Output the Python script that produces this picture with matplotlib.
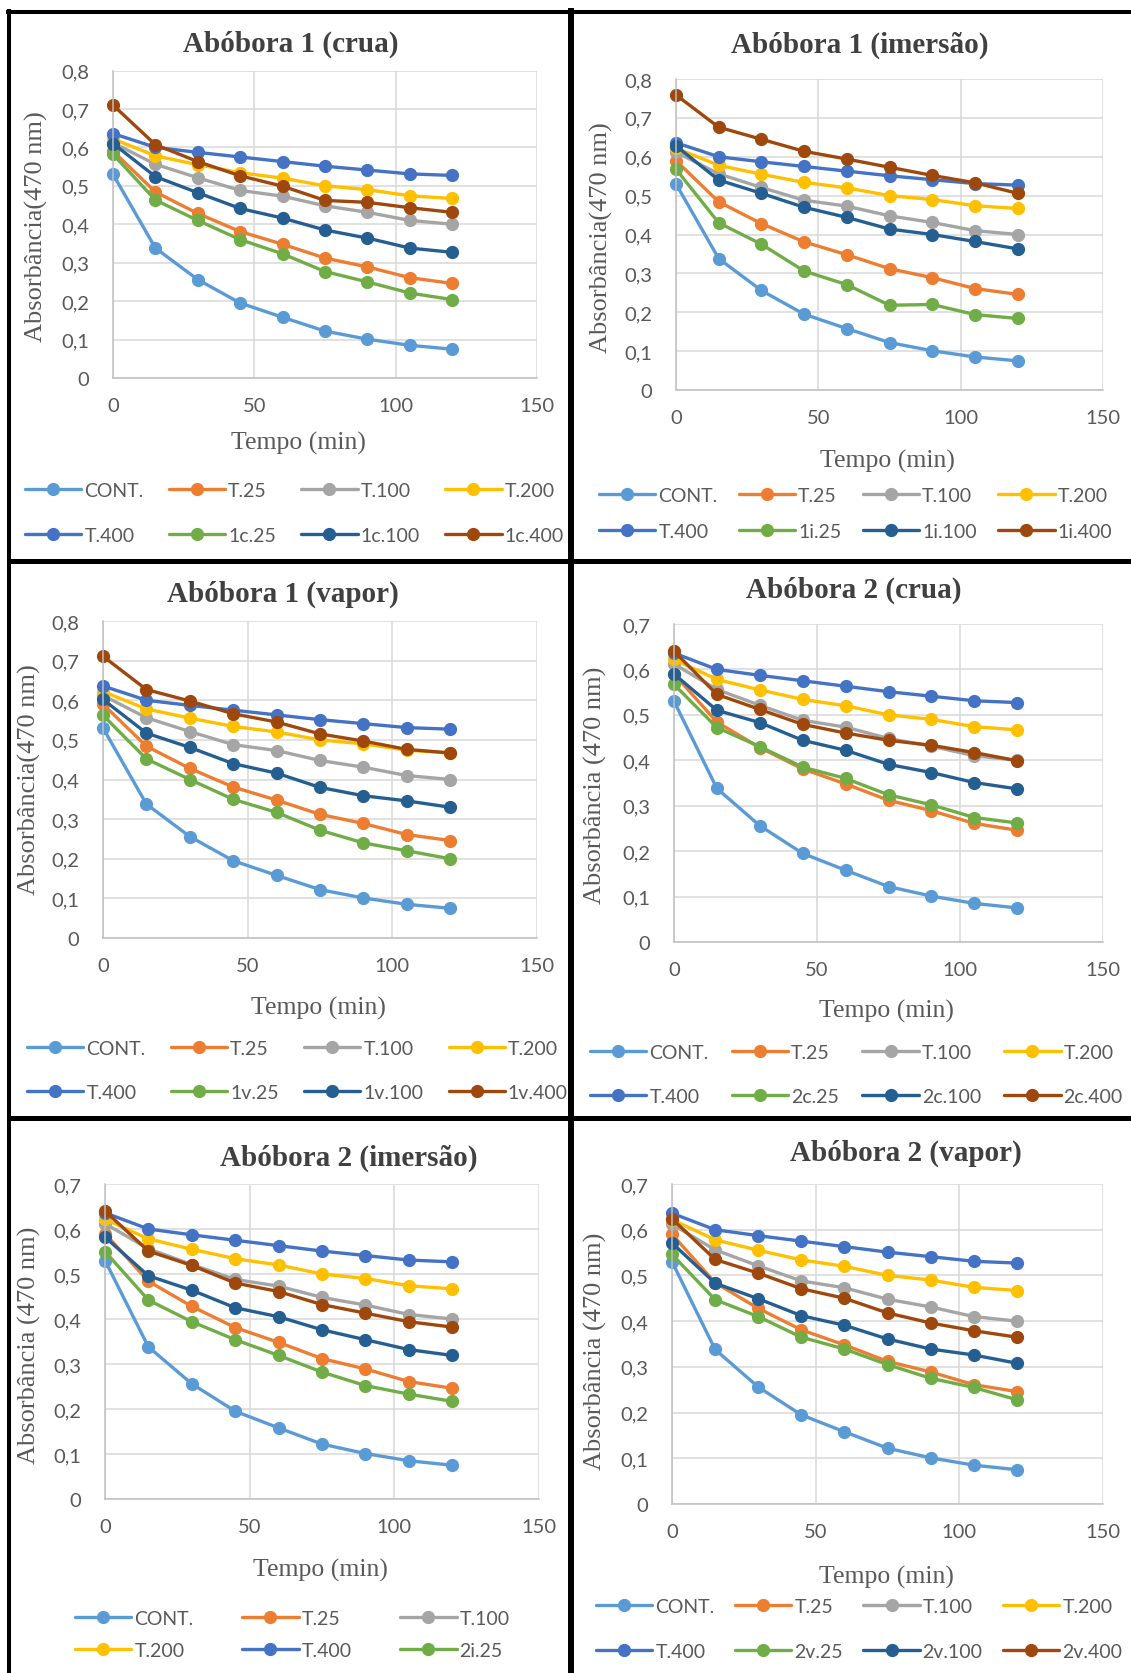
import matplotlib
matplotlib.use('Agg')
import matplotlib.pyplot as plt
from matplotlib.lines import Line2D
from matplotlib.ticker import FuncFormatter

W, H = 1131, 1674

# tempo (min)
tempo = [0, 15, 30, 45, 60, 75, 90, 105, 120]

# series comuns (controle e padrões)
cont = [0.530, 0.338, 0.256, 0.195, 0.158, 0.122, 0.101, 0.085, 0.075]
t25 = [0.590, 0.484, 0.428, 0.381, 0.348, 0.312, 0.289, 0.261, 0.246]
t100 = [0.612, 0.556, 0.521, 0.488, 0.473, 0.448, 0.431, 0.410, 0.400]
t200 = [0.622, 0.578, 0.555, 0.534, 0.520, 0.500, 0.490, 0.474, 0.467]
t400 = [0.636, 0.600, 0.587, 0.575, 0.563, 0.551, 0.541, 0.531, 0.527]

# abóbora 1
a1_crua_25 = [0.582, 0.463, 0.410, 0.360, 0.323, 0.277, 0.250, 0.221, 0.204]
a1_crua_100 = [0.610, 0.524, 0.482, 0.441, 0.416, 0.385, 0.364, 0.338, 0.327]
a1_crua_400 = [0.710, 0.607, 0.563, 0.526, 0.499, 0.462, 0.457, 0.443, 0.431]

a1_imer_25 = [0.568, 0.430, 0.375, 0.306, 0.271, 0.218, 0.220, 0.194, 0.184]
a1_imer_100 = [0.628, 0.540, 0.506, 0.470, 0.444, 0.414, 0.400, 0.382, 0.363]
a1_imer_400 = [0.759, 0.676, 0.645, 0.614, 0.594, 0.573, 0.552, 0.533, 0.506]

a1_vap_25 = [0.562, 0.452, 0.400, 0.350, 0.317, 0.272, 0.240, 0.220, 0.200]
a1_vap_100 = [0.602, 0.517, 0.481, 0.440, 0.416, 0.380, 0.359, 0.346, 0.330]
a1_vap_400 = [0.711, 0.627, 0.598, 0.566, 0.545, 0.515, 0.497, 0.476, 0.467]

# abóbora 2
a2_crua_25 = [0.567, 0.472, 0.430, 0.385, 0.360, 0.324, 0.302, 0.274, 0.262]
a2_crua_100 = [0.590, 0.510, 0.483, 0.444, 0.422, 0.391, 0.373, 0.351, 0.337]
a2_crua_400 = [0.640, 0.545, 0.512, 0.479, 0.460, 0.444, 0.433, 0.417, 0.399]

a2_imer_25 = [0.550, 0.442, 0.394, 0.354, 0.319, 0.282, 0.252, 0.233, 0.217]
a2_imer_100 = [0.582, 0.496, 0.464, 0.425, 0.405, 0.376, 0.354, 0.332, 0.319]
a2_imer_400 = [0.640, 0.551, 0.519, 0.480, 0.461, 0.432, 0.413, 0.394, 0.382]

a2_vap_25 = [0.546, 0.447, 0.410, 0.365, 0.339, 0.305, 0.275, 0.255, 0.228]
a2_vap_100 = [0.571, 0.483, 0.449, 0.412, 0.391, 0.361, 0.339, 0.326, 0.308]
a2_vap_400 = [0.624, 0.535, 0.505, 0.471, 0.450, 0.418, 0.396, 0.379, 0.365]

cores = ['#5B9BD5', '#ED7D31', '#A5A5A5', '#FFC000', '#4472C4', '#70AD47', '#255E91', '#9E480E']
nomes_comuns = ['CONT.', 'T.25', 'T.100', 'T.200', 'T.400']

paineis = [
    dict(titulo='Abóbora 1 (crua)', pref='1c', series=[a1_crua_25, a1_crua_100, a1_crua_400],
         ymax=0.8, ylab='Absorbância(470 nm)',
         rect=(113, 71.5, 537, 379), tit=(291, 44), xl=(298, 443), yl=(36, 227),
         leg=(25, 491), ncol=4, nleg=8, colsp=1.3, labsp=1.43),
    dict(titulo='Abóbora 1 (imersão)', pref='1i', series=[a1_imer_25, a1_imer_100, a1_imer_400],
         ymax=0.8, ylab='Absorbância(470 nm)',
         rect=(676, 80, 1103, 391), tit=(860, 45), xl=(887, 461), yl=(601, 238),
         leg=(599, 496), ncol=4, nleg=8, colsp=1.1, labsp=0.97),
    dict(titulo='Abóbora 1 (vapor)', pref='1v', series=[a1_vap_25, a1_vap_100, a1_vap_400],
         ymax=0.8, ylab='Absorbância(470 nm)',
         rect=(103, 622, 537, 939), tit=(283, 594), xl=(318, 1008), yl=(29, 780),
         leg=(27, 1049), ncol=4, nleg=8, colsp=1.3, labsp=1.37),
    dict(titulo='Abóbora 2 (crua)', pref='2c', series=[a2_crua_25, a2_crua_100, a2_crua_400],
         ymax=0.7, ylab='Absorbância (470 nm)',
         rect=(674, 625, 1103, 943), tit=(854, 590), xl=(886, 1011), yl=(595, 785),
         leg=(590, 1053), ncol=4, nleg=8, colsp=1.2, labsp=1.37),
    dict(titulo='Abóbora 2 (imersão)', pref='2i', series=[a2_imer_25, a2_imer_100, a2_imer_400],
         ymax=0.7, ylab='Absorbância (470 nm)',
         rect=(105, 1185, 539, 1500), tit=(349, 1158), xl=(320, 1570), yl=(29, 1345),
         leg=(75, 1619), ncol=3, nleg=6, colsp=2.5, labsp=0.78),
    dict(titulo='Abóbora 2 (vapor)', pref='2v', series=[a2_vap_25, a2_vap_100, a2_vap_400],
         ymax=0.7, ylab='Absorbância (470 nm)',
         rect=(672, 1185, 1103, 1505), tit=(906, 1153), xl=(886, 1577), yl=(595, 1351),
         leg=(596, 1607), ncol=4, nleg=8, colsp=1.05, labsp=1.43),
]

TXT = '#595959'
SANS = ['Lato', 'DejaVu Sans']
SERIF = ['Liberation Serif', 'DejaVu Serif']


def fx(x):
    return x / W


def fy(y):
    return 1 - y / H


def fmt_y(v, pos):
    if abs(v) < 1e-9:
        return '0'
    return f'{v:.1f}'.replace('.', ',')


def ordem_linhas(items, ncol):
    # matplotlib preenche por coluna; o Excel preenche por linha
    n = len(items)
    nrows, nlarge = divmod(n, ncol)
    per_col = [nrows + 1] * nlarge + [nrows] * (ncol - nlarge)
    out = []
    for c in range(ncol):
        for r in range(per_col[c]):
            idx = r * ncol + c
            if idx < n:
                out.append(items[idx])
    return out


fig = plt.figure(figsize=(W / 100, H / 100), dpi=100)
fig.patch.set_facecolor('white')

for p in paineis:
    l, t, r, b = p['rect']
    ax = fig.add_axes([fx(l), fy(b), (r - l) / W, (b - t) / H])
    dados = [cont, t25, t100, t200, t400] + p['series']
    nomes = nomes_comuns + [p['pref'] + '.25', p['pref'] + '.100', p['pref'] + '.400']
    handles = []
    for serie, nome, cor in zip(dados, nomes, cores):
        h, = ax.plot(tempo, serie, color=cor, lw=2.4, marker='o', ms=8.5, label=nome,
                     solid_capstyle='round', clip_on=False)
        handles.append(h)

    ax.set_xlim(0, 150)
    ax.set_ylim(0, p['ymax'])
    ax.set_xticks([0, 50, 100, 150])
    ax.set_yticks([i / 10 for i in range(int(round(p['ymax'] * 10)) + 1)])
    ax.yaxis.set_major_formatter(FuncFormatter(fmt_y))
    ax.grid(True, color='#D9D9D9', lw=1.1)
    ax.set_axisbelow(True)
    for s in ['top', 'right']:
        ax.spines[s].set_visible(False)
    for s in ['left', 'bottom']:
        ax.spines[s].set_color('#BFBFBF')
        ax.spines[s].set_linewidth(1.1)
    ax.tick_params(axis='both', length=0, labelsize=14.5, labelcolor=TXT)
    ax.tick_params(axis='x', pad=14)
    ax.tick_params(axis='y', pad=17)
    for lab in ax.get_xticklabels() + ax.get_yticklabels():
        lab.set_family(SANS)

    fig.text(fx(p['tit'][0]), fy(p['tit'][1]), p['titulo'], ha='center', va='center',
             fontsize=21, fontweight='bold', family=SERIF, color='#404040')
    fig.text(fx(p['xl'][0]), fy(p['xl'][1]), 'Tempo (min)', ha='center', va='center',
             fontsize=18.5, family=SERIF, color=TXT)
    fig.text(fx(p['yl'][0]), fy(p['yl'][1]), p['ylab'], ha='center', va='center',
             rotation=90, fontsize=19, family=SERIF, color=TXT)

    hs = handles[:p['nleg']]
    hs = ordem_linhas(hs, p['ncol'])
    leg = ax.legend(hs, [h.get_label() for h in hs], loc='upper left',
                    bbox_to_anchor=(fx(p['leg'][0]), fy(p['leg'][1] - 8)),
                    bbox_transform=fig.transFigure, ncol=p['ncol'], frameon=False,
                    handlelength=2.9, handletextpad=0.15, columnspacing=p['colsp'],
                    labelspacing=p['labsp'], borderpad=0, borderaxespad=0,
                    prop={'family': SANS, 'size': 14})
    for txt in leg.get_texts():
        txt.set_color(TXT)

# molduras pretas entre os gráficos
bordas = [
    ((8, 13), (W, 13), 2.9),
    ((9, 12), (9, H), 2.9),
    ((571, 12), (571, H), 4.3),
    ((9, 562), (W, 562), 3.6),
    ((9, 1119), (W, 1119), 3.6),
]
for (x0, y0), (x1, y1), lw in bordas:
    fig.add_artist(Line2D([fx(x0), fx(x1)], [fy(y0), fy(y1)], color='black', lw=lw,
                          transform=fig.transFigure))

fig.savefig('out.png', dpi=100, facecolor='white')
